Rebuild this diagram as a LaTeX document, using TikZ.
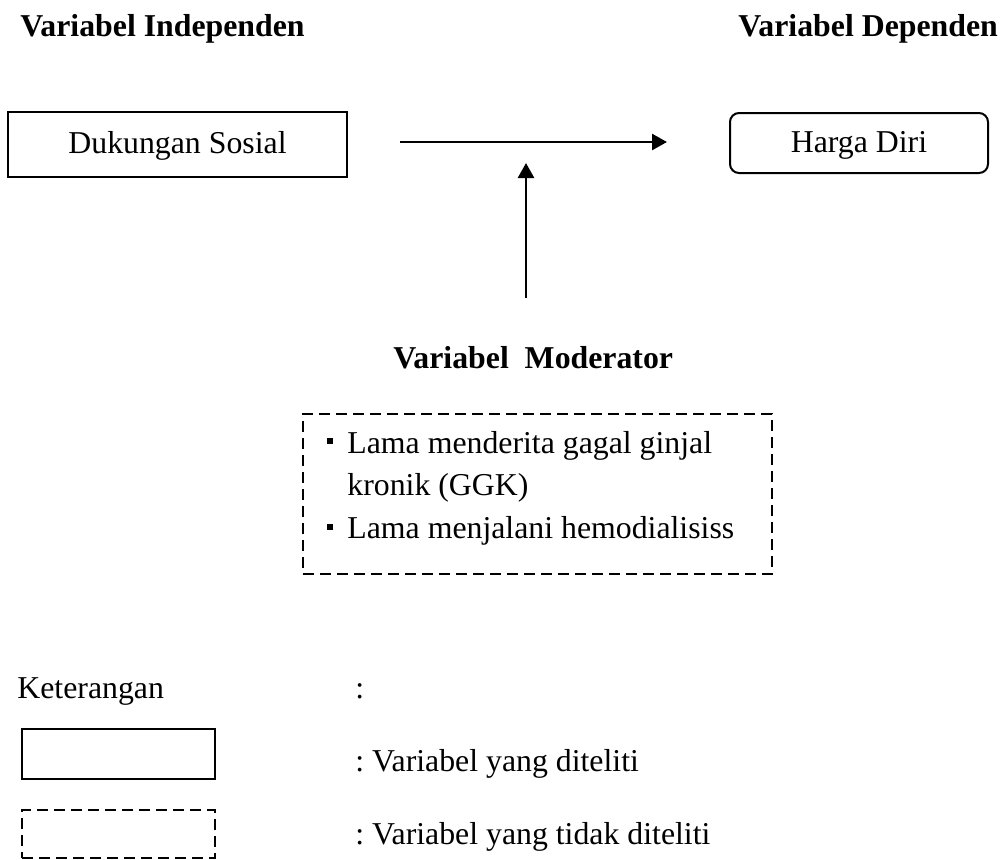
\documentclass[tikz,border=0pt]{standalone}
\usepackage{fontspec}
\setmainfont{Liberation Serif}
\usetikzlibrary{arrows.meta}
\frenchspacing
\tikzset{
  txt/.style={inner sep=0pt, anchor=base west, font=\fontsize{15.9pt}{19pt}\selectfont},
  hdr/.style={txt, font=\fontsize{15.9pt}{19pt}\selectfont\bfseries},
  box/.style={draw, line width=1pt, rectangle, inner sep=0pt, text height=12pt, text depth=3pt, font=\fontsize{15.9pt}{19pt}\selectfont},
  dbox/.style={box, dash pattern=on 5.5pt off 3pt},
  arr/.style={line width=1.3pt, -{Triangle[length=7.5pt,width=8pt]}},
  bul/.style={fill, rectangle, inner sep=0pt, minimum size=3.3pt},
}
\begin{document}
\begin{tikzpicture}[x=0.5pt,y=-0.5pt]
\useasboundingbox (0,0) rectangle (1007,859);
% headers
\node[hdr] (hind) at (20,36) {Variabel Independen};
\node[hdr] (hdep) at (738,36) {Variabel Dependen};
% main boxes
\node[box, minimum width=169.5pt, minimum height=32.5pt] (ds) at (177.5,144.5) {Dukungan Sosial};
\node[box, rounded corners=4.5pt, minimum width=129pt, minimum height=30pt] (hd) at (859,143) {Harga Diri};
% arrows
\coordinate (hs) at (400,142);
\coordinate (he) at (667,142);
\draw[arr] (hs) -- (he);
\coordinate (vs) at (526,298);
\coordinate (ve) at (526,163);
\draw[arr] (vs) -- (ve);
% moderator
\node[hdr] (hmod) at (393,368) {Variabel\ \ Moderator};
\node[dbox, minimum width=234.5pt, minimum height=80pt] (mod) at (537.5,494) {};
\node[bul] (b1) at (330,441) {};
\node[txt] (m1) at (347,453) {Lama menderita gagal ginjal};
\node[txt] (m2) at (347,495) {kronik (GGK)};
\node[bul] (b2) at (330,527) {};
\node[txt] (m3) at (347,538) {Lama menjalani hemodialisiss};
% legend
\node[txt] (ket) at (17,698) {Keterangan};
\node[txt] (kc) at (355,698) {:};
\node[box, minimum width=96.5pt, minimum height=25pt] (lg1) at (118.5,754) {};
\node[txt] (l1) at (355,771) {: Variabel yang diteliti};
\node[dbox, minimum width=96.5pt, minimum height=24pt] (lg2) at (118.5,834) {};
\node[txt] (l2) at (355,844) {: Variabel yang tidak diteliti};
\end{tikzpicture}
\end{document}
